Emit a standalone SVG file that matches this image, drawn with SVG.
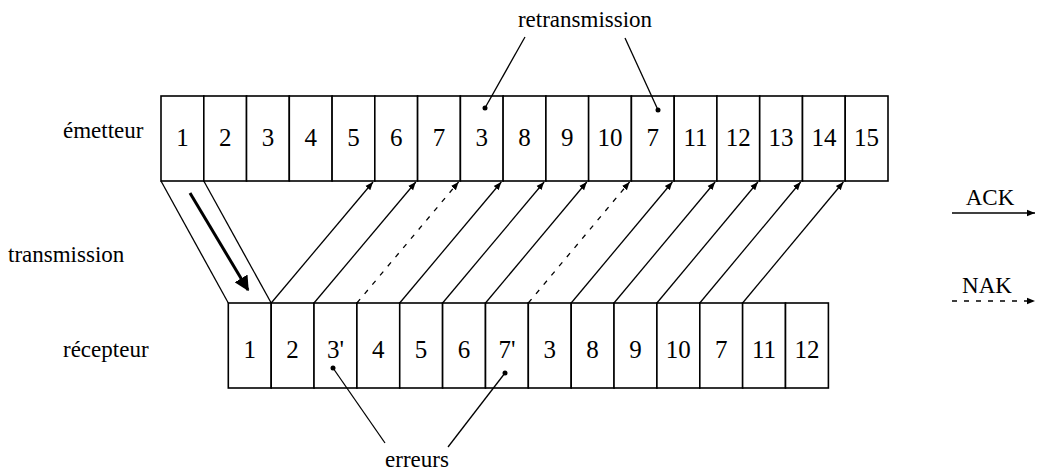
<svg xmlns="http://www.w3.org/2000/svg" width="1037" height="472" viewBox="0 0 1037 472">
<style>
.box{fill:#fff;stroke:#000;stroke-width:1.6}
.num{font-family:"Liberation Serif",serif;font-size:25px;text-anchor:middle;fill:#000}
.lbl{font-family:"Liberation Serif",serif;font-size:23px;fill:#000}
.ln{stroke:#000;stroke-width:1.3;fill:none}
.ack{stroke:#000;stroke-width:1.3;fill:none;marker-end:url(#ah)}
.nak{stroke:#000;stroke-width:1.3;fill:none;stroke-dasharray:5 7;marker-end:url(#ah)}
.dot{fill:#000}
</style>
<defs>
<marker id="ah" viewBox="0 0 10 10" refX="10" refY="5" markerWidth="8" markerHeight="8" markerUnits="userSpaceOnUse" orient="auto"><path d="M0,1 L10,5 L0,9 Z" fill="#000"/></marker>
<marker id="ahb" viewBox="0 0 10 10" refX="9" refY="5" markerWidth="5" markerHeight="5" orient="auto"><path d="M0,0 L10,5 L0,10 Z" fill="#000"/></marker>
</defs>

<g id="labels">
<text class="lbl" x="63" y="138">émetteur</text>
<text class="lbl" x="8" y="262">transmission</text>
<text class="lbl" x="63" y="357">récepteur</text>
<text class="lbl" x="585" y="27" text-anchor="middle">retransmission</text>
<text class="lbl" x="417" y="467" text-anchor="middle">erreurs</text>
</g>

<g id="emetteur">
<rect class="box" x="161" y="96" width="42.8" height="85"/><text class="num" x="182.4" y="146">1</text>
<rect class="box" x="203.8" y="96" width="42.8" height="85"/><text class="num" x="225.2" y="146">2</text>
<rect class="box" x="246.5" y="96" width="42.8" height="85"/><text class="num" x="267.9" y="146">3</text>
<rect class="box" x="289.3" y="96" width="42.8" height="85"/><text class="num" x="310.7" y="146">4</text>
<rect class="box" x="332.1" y="96" width="42.8" height="85"/><text class="num" x="353.5" y="146">5</text>
<rect class="box" x="374.8" y="96" width="42.8" height="85"/><text class="num" x="396.2" y="146">6</text>
<rect class="box" x="417.6" y="96" width="42.8" height="85"/><text class="num" x="439" y="146">7</text>
<rect class="box" x="460.4" y="96" width="42.8" height="85"/><text class="num" x="481.8" y="146">3</text>
<rect class="box" x="503.1" y="96" width="42.8" height="85"/><text class="num" x="524.5" y="146">8</text>
<rect class="box" x="545.9" y="96" width="42.8" height="85"/><text class="num" x="567.3" y="146">9</text>
<rect class="box" x="588.6" y="96" width="42.8" height="85"/><text class="num" x="610" y="146">10</text>
<rect class="box" x="631.4" y="96" width="42.8" height="85"/><text class="num" x="652.8" y="146">7</text>
<rect class="box" x="674.2" y="96" width="42.8" height="85"/><text class="num" x="695.6" y="146">11</text>
<rect class="box" x="716.9" y="96" width="42.8" height="85"/><text class="num" x="738.3" y="146">12</text>
<rect class="box" x="759.7" y="96" width="42.8" height="85"/><text class="num" x="781.1" y="146">13</text>
<rect class="box" x="802.5" y="96" width="42.8" height="85"/><text class="num" x="823.9" y="146">14</text>
<rect class="box" x="845.2" y="96" width="42.8" height="85"/><text class="num" x="866.6" y="146">15</text>
</g>

<g id="recepteur">
<rect class="box" x="228.3" y="303" width="42.9" height="85"/><text class="num" x="249.7" y="358">1</text>
<rect class="box" x="271.2" y="303" width="42.9" height="85"/><text class="num" x="292.6" y="358">2</text>
<rect class="box" x="314" y="303" width="42.9" height="85"/><text class="num" x="335.4" y="358">3'</text>
<rect class="box" x="356.9" y="303" width="42.9" height="85"/><text class="num" x="378.3" y="358">4</text>
<rect class="box" x="399.7" y="303" width="42.9" height="85"/><text class="num" x="421.1" y="358">5</text>
<rect class="box" x="442.6" y="303" width="42.9" height="85"/><text class="num" x="464" y="358">6</text>
<rect class="box" x="485.5" y="303" width="42.9" height="85"/><text class="num" x="506.9" y="358">7'</text>
<rect class="box" x="528.3" y="303" width="42.9" height="85"/><text class="num" x="549.7" y="358">3</text>
<rect class="box" x="571.2" y="303" width="42.9" height="85"/><text class="num" x="592.6" y="358">8</text>
<rect class="box" x="614" y="303" width="42.9" height="85"/><text class="num" x="635.4" y="358">9</text>
<rect class="box" x="656.9" y="303" width="42.9" height="85"/><text class="num" x="678.3" y="358">10</text>
<rect class="box" x="699.8" y="303" width="42.9" height="85"/><text class="num" x="721.2" y="358">7</text>
<rect class="box" x="742.6" y="303" width="42.9" height="85"/><text class="num" x="764" y="358">11</text>
<rect class="box" x="785.5" y="303" width="42.9" height="85"/><text class="num" x="806.9" y="358">12</text>
</g>

<g id="legend">
<text class="lbl" x="990" y="205" text-anchor="middle">ACK</text>
<line class="ack" x1="952" y1="213" x2="1035" y2="213"/>
<text class="lbl" x="987" y="293" text-anchor="middle">NAK</text>
<line class="nak" x1="952" y1="301" x2="1035" y2="301"/>
</g>

<g id="connectors">
<line class="ln" x1="161" y1="181" x2="228.3" y2="303"/>
<line class="ln" x1="203.8" y1="181" x2="271.2" y2="303"/>
<line x1="190" y1="193" x2="248" y2="290" stroke="#000" stroke-width="3" marker-end="url(#ahb)"/>
<line class="ack" x1="271.2" y1="303" x2="373" y2="182"/>
<line class="ack" x1="314" y1="303" x2="415.8" y2="182"/>
<line class="nak" x1="356.9" y1="303" x2="458.6" y2="182"/>
<line class="ack" x1="399.7" y1="303" x2="501.3" y2="182"/>
<line class="ack" x1="442.6" y1="303" x2="544.1" y2="182"/>
<line class="ack" x1="485.5" y1="303" x2="586.8" y2="182"/>
<line class="nak" x1="528.3" y1="303" x2="629.6" y2="182"/>
<line class="ack" x1="571.2" y1="303" x2="672.4" y2="182"/>
<line class="ack" x1="614" y1="303" x2="715.1" y2="182"/>
<line class="ack" x1="656.9" y1="303" x2="757.9" y2="182"/>
<line class="ack" x1="699.8" y1="303" x2="800.7" y2="182"/>
<line class="ack" x1="742.6" y1="303" x2="843.4" y2="182"/>
<line class="ln" x1="525" y1="37" x2="485" y2="108"/>
<circle class="dot" cx="485" cy="108" r="2.5"/>
<line class="ln" x1="625" y1="38" x2="658" y2="110"/>
<circle class="dot" cx="658" cy="110" r="2.5"/>
<line class="ln" x1="333" y1="368" x2="385" y2="443"/>
<circle class="dot" cx="333" cy="368" r="2.5"/>
<line class="ln" x1="505" y1="373" x2="448" y2="447"/>
<circle class="dot" cx="505" cy="373" r="2.5"/>
</g>
</svg>
